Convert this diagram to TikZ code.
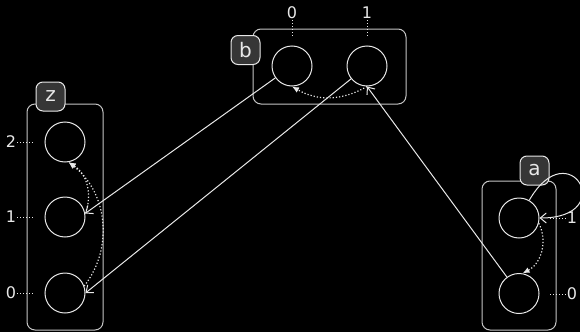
\documentclass[tikz,border=0pt]{standalone}
\usepackage{fontspec}
\setmainfont{DejaVu Sans}
\usetikzlibrary{arrows.meta, positioning, calc}

\definecolor{fg}{HTML}{E8E8E8}
\definecolor{tagfill}{HTML}{363636}

\begin{document}
\begin{tikzpicture}[x=1pt,y=-1pt,
  cell/.style={circle,draw=fg,line width=1pt,minimum size=40pt,inner sep=0pt},
  group/.style={draw=fg!85!black,line width=1pt,rounded corners=8pt},
  tag/.style={draw=fg,fill=tagfill,text=fg,line width=1pt,rounded corners=7pt,
    minimum size=29pt,inner sep=0pt,font=\fontsize{20}{24}\selectfont},
  idx/.style={text=fg,inner sep=1pt,font=\fontsize{16}{20}\selectfont},
  tick/.style={draw=fg,line width=1pt,dash pattern=on 1pt off 2pt},
  link/.style={draw=fg,line width=1pt,-{Straight Barb[length=6pt,width=10pt]}},
  move/.style={draw=fg,line width=1.2pt,dash pattern=on 1.2pt off 2pt,
    -{Latex[length=7pt,width=6pt]}}]
  \fill[black] (0,0) rectangle (580,332);
  \useasboundingbox (0,0) rectangle (580,332);

  % groups
  \draw[group] (27,104) rectangle (103,330);
  \draw[group] (253,29) rectangle (406,104);
  \draw[group] (482,181) rectangle (556,330);

  % cells
  \node[cell] (z2) at (65,142) {};
  \node[cell] (z1) at (65,217) {};
  \node[cell] (z0) at (65,293) {};
  \node[cell] (b0) at (292,66) {};
  \node[cell] (b1) at (367,66) {};
  \node[cell] (a1) at (519,218) {};
  \node[cell] (a0) at (519,293.5) {};

  % tags
  \node[tag] (tagz) at (50.5,96.5) {z};
  \node[tag] (tagb) at (245.5,50) {b};
  \node[tag] (taga) at (534.5,170.5) {a};

  % index labels
  \foreach \i/\y in {0/293,1/217,2/142}{
    \node[idx] (zl\i) at (11,\y) {\i};
    \draw[tick] (zl\i) -- (34,\y);
  }
  \foreach \i/\x in {0/292,1/367}{
    \node[idx] (bl\i) at (\x,13) {\i};
    \draw[tick] (bl\i) -- (\x,37);
  }
  \foreach \i/\y in {0/294,1/218}{
    \node[idx] (al\i) at (572,\y) {\i};
    \draw[tick] (al\i) -- (550,\y);
  }

  % edges
  \draw[link] (b0) -- (z1.10);
  \draw[link] (b1) -- (z0.east);
  \draw[link] (a0) -- (b1.south);
  \draw[link] (a1.60) to[out=60,in=0,looseness=10] (a1.east);

  % moves
  \draw[move] (b1.south) to[bend left=30] (b0.south);
  \draw[move] (z1.10) to[bend right=40] (z2.-80);
  \draw[move] (z0.20) to[bend right=45] (z2.-80);
  \draw[move] (a1.-15) to[bend left=45] (a0.80);
\end{tikzpicture}
\end{document}
